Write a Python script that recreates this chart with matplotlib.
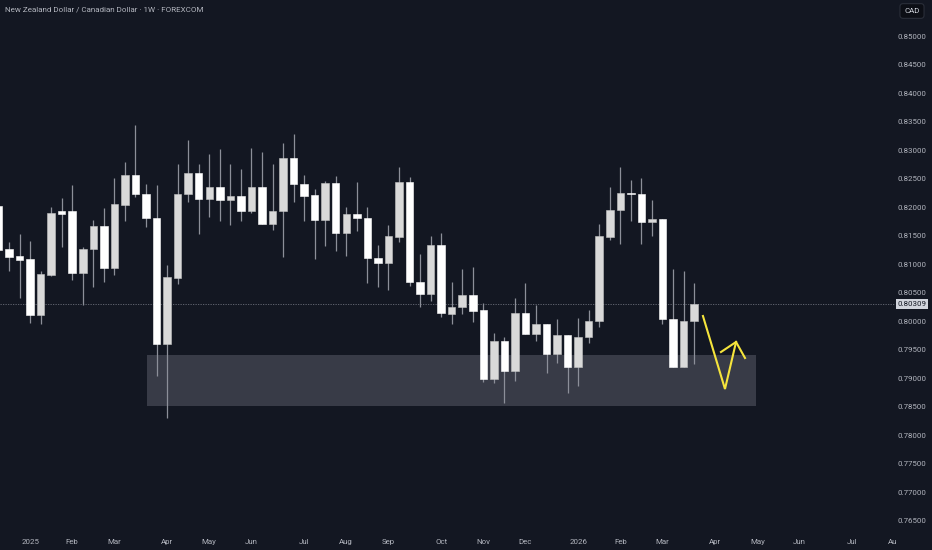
import numpy as np
import pandas as pd
import matplotlib
matplotlib.use('Agg')
import matplotlib.pyplot as plt
import matplotlib.dates as mdates
from matplotlib.patches import Rectangle
from matplotlib.transforms import Bbox

plt.rcParams['font.family'] = ['Roboto', 'DejaVu Sans']

title = 'New Zealand Dollar / Canadian Dollar · 1W · FOREXCOM'
first_week = '2024-12-16'

# weekly candles
opens = [0.82030, 0.81277, 0.81154, 0.81101, 0.80118, 0.80820, 0.81944, 0.81944, 0.80856, 0.81277,
         0.81681, 0.80943, 0.82050, 0.82577, 0.82243, 0.81822, 0.79609, 0.80768, 0.82243, 0.82612,
         0.82155, 0.82366, 0.82138, 0.82208, 0.81944, 0.82366, 0.81716, 0.81944, 0.82875, 0.82419,
         0.82225, 0.81786, 0.82436, 0.81558, 0.81892, 0.81822, 0.81119, 0.81031, 0.81488, 0.82454,
         0.80698, 0.80487, 0.81347, 0.80136, 0.80259, 0.80469, 0.80206, 0.78994, 0.79661, 0.79135,
         0.80153, 0.79784, 0.79960, 0.79433, 0.79767, 0.79205, 0.79732, 0.80013, 0.81488, 0.81962,
         0.82261, 0.82243, 0.81751, 0.81804, 0.80048, 0.79205, 0.80013]
highs = [0.82050, 0.81400, 0.81541, 0.81418, 0.80891, 0.82015, 0.82173, 0.82401, 0.81312, 0.81786,
         0.81997, 0.82524, 0.82805, 0.83455, 0.82419, 0.82401, 0.80996, 0.82770, 0.83191, 0.82770,
         0.82946, 0.83033, 0.82770, 0.82682, 0.83051, 0.82981, 0.82770, 0.83139, 0.83297, 0.82577,
         0.82331, 0.82471, 0.82559, 0.82015, 0.82454, 0.82015, 0.81347, 0.81699, 0.82717, 0.82542,
         0.81189, 0.81505, 0.81558, 0.80698, 0.80926, 0.80961, 0.80329, 0.79802, 0.79732, 0.80417,
         0.80680, 0.80294, 0.79960, 0.80048, 0.79767, 0.80065, 0.80206, 0.81716, 0.82366, 0.82717,
         0.82489, 0.82524, 0.82138, 0.81804, 0.80926, 0.80891, 0.80680]
lows = [0.81240, 0.80891, 0.80417, 0.79978, 0.79960, 0.80803, 0.81312, 0.80733, 0.80294, 0.80610,
        0.80698, 0.80820, 0.81769, 0.82190, 0.81663, 0.79047, 0.78309, 0.80662, 0.82103, 0.81541,
        0.81839, 0.81769, 0.81699, 0.81769, 0.81909, 0.81716, 0.81611, 0.81137, 0.82103, 0.81769,
        0.81101, 0.81330, 0.81242, 0.81154, 0.81593, 0.80680, 0.80610, 0.80557, 0.81400, 0.80627,
        0.80259, 0.80364, 0.80083, 0.79960, 0.80136, 0.79995, 0.78941, 0.78924, 0.78573, 0.78959,
        0.79784, 0.79661, 0.79099, 0.79275, 0.78748, 0.78871, 0.79626, 0.79907, 0.81435, 0.81365,
        0.81769, 0.81365, 0.81505, 0.79960, 0.79205, 0.79205, 0.79257]
closes = [0.81260, 0.81137, 0.81084, 0.80118, 0.80838, 0.81909, 0.81892, 0.80856, 0.81277, 0.81681,
          0.80943, 0.82067, 0.82577, 0.82243, 0.81822, 0.79609, 0.80785, 0.82243, 0.82612, 0.82155,
          0.82366, 0.82138, 0.82208, 0.81944, 0.82366, 0.81716, 0.81944, 0.82875, 0.82419, 0.82208,
          0.81786, 0.82436, 0.81558, 0.81892, 0.81822, 0.81119, 0.81031, 0.81505, 0.82454, 0.80698,
          0.80487, 0.81347, 0.80153, 0.80259, 0.80469, 0.80188, 0.78994, 0.79661, 0.79135, 0.80153,
          0.79784, 0.79960, 0.79433, 0.79767, 0.79205, 0.79732, 0.80013, 0.81505, 0.81962, 0.82261,
          0.82243, 0.81751, 0.81804, 0.80048, 0.79205, 0.80013, 0.80309]

last_price = 0.80309
currency = 'CAD'

# demand zone and the hand drawn arrow (x in weeks from first candle)
zone_weeks = [14.1, 71.9]
zone_prices = [0.78520, 0.79415]
arrow_weeks = [66.84, 68.93, 69.98]
arrow_prices = [0.80100, 0.78818, 0.79644]
head_weeks = [68.55, 69.98, 70.83]
head_prices = [0.79468, 0.79644, 0.79363]

price_ticks = np.arange(0.765, 0.8501, 0.005)

BG = '#131722'
TXT = '#b2b5be'
UP = '#d9d9d9'
DOWN = '#ffffff'
WICK = '#8c8f99'

W, H = 932, 550
PX_WEEK = 10.54  # pixels per weekly bar
PX_PRICE = 0.00017562  # price per pixel
FS = 5.7

fig = plt.figure(figsize=(W / 100, H / 100), dpi=100, facecolor=BG)
ax = fig.add_axes([0, 20 / H, 1, 530 / H])
ax.set_facecolor(BG)
for s in ax.spines.values():
    s.set_visible(False)
ax.set_xticks([])
ax.set_yticks([])

dates = pd.date_range(first_week, periods=len(opens), freq='7D')
x = mdates.date2num(dates)
x0 = x[0]
o = np.array(opens); c = np.array(closes)
up = c >= o

def wk(w):
    return x0 + np.asarray(w) * 7

# zone
ax.add_patch(Rectangle((wk(zone_weeks[0]), zone_prices[0]), wk(zone_weeks[1]) - wk(zone_weeks[0]),
                       zone_prices[1] - zone_prices[0], facecolor='#383b47', edgecolor='none', zorder=1))

# candles
ax.vlines(x, lows, highs, color=WICK, lw=0.9, zorder=2)
body = np.where(np.abs(c - o) < 0.00012, 0.00015, c - o)
ax.bar(x, body, bottom=o, width=4.98, color=np.where(up, UP, DOWN),
       edgecolor=np.where(up, '#c4c4c4', DOWN), linewidth=0.4, zorder=3)

# last price line
ax.axhline(last_price, xmax=895 / W, color='#6a6d78', lw=0.6, ls=(0, (1.5, 1.5)), zorder=1)

# arrow
ax.plot(wk(arrow_weeks), arrow_prices, color='#f5e43c', lw=1.5, solid_joinstyle='miter', zorder=4)
ax.plot(wk(head_weeks), head_prices, color='#f5e43c', lw=1.5, solid_joinstyle='miter', zorder=4)

left = x0 + 0.146 * 7
ax.set_xlim(left, left + W * 7 / PX_WEEK)
ax.set_ylim(0.8565 - 530 * PX_PRICE, 0.8565)

# price scale
for p in price_ticks:
    ax.text(912 / W, p, f'{p:.5f}', transform=ax.get_yaxis_transform(), ha='center', va='center',
            fontsize=FS, color=TXT)
ax.text(912 / W, last_price, f'{last_price:.5f}', transform=ax.get_yaxis_transform(), ha='center',
        va='center', fontsize=FS, color='#131722', zorder=5,
        bbox=dict(boxstyle='square,pad=0.25', fc='#d1d4dc', ec='none'))

# time scale
months = pd.date_range('2025-01-01', '2026-08-01', freq='MS')
clip = Bbox.from_extents(0, 0, 896, H)
for m in months:
    d = m + pd.Timedelta(days=(7 - m.weekday()) % 7)
    lab = str(m.year) if m.month == 1 else m.strftime('%b')
    t = ax.text(mdates.date2num(d), -12 / 530, lab, transform=ax.get_xaxis_transform(),
                ha='center', va='center', fontsize=FS, color=TXT, clip_on=True)
    t.set_clip_box(clip)

fig.text(5 / W, 1 - 10 / H, title, ha='left', va='center', fontsize=5.8, color=TXT)
fig.text(912 / W, 1 - 11 / H, currency, ha='center', va='center', fontsize=FS, color='#d1d4dc',
         bbox=dict(boxstyle='round,pad=0.55,rounding_size=0.4', fc='#0c0e15', ec='#2a2e39', lw=0.8))

fig.savefig('out.png', dpi=100, facecolor=BG)
